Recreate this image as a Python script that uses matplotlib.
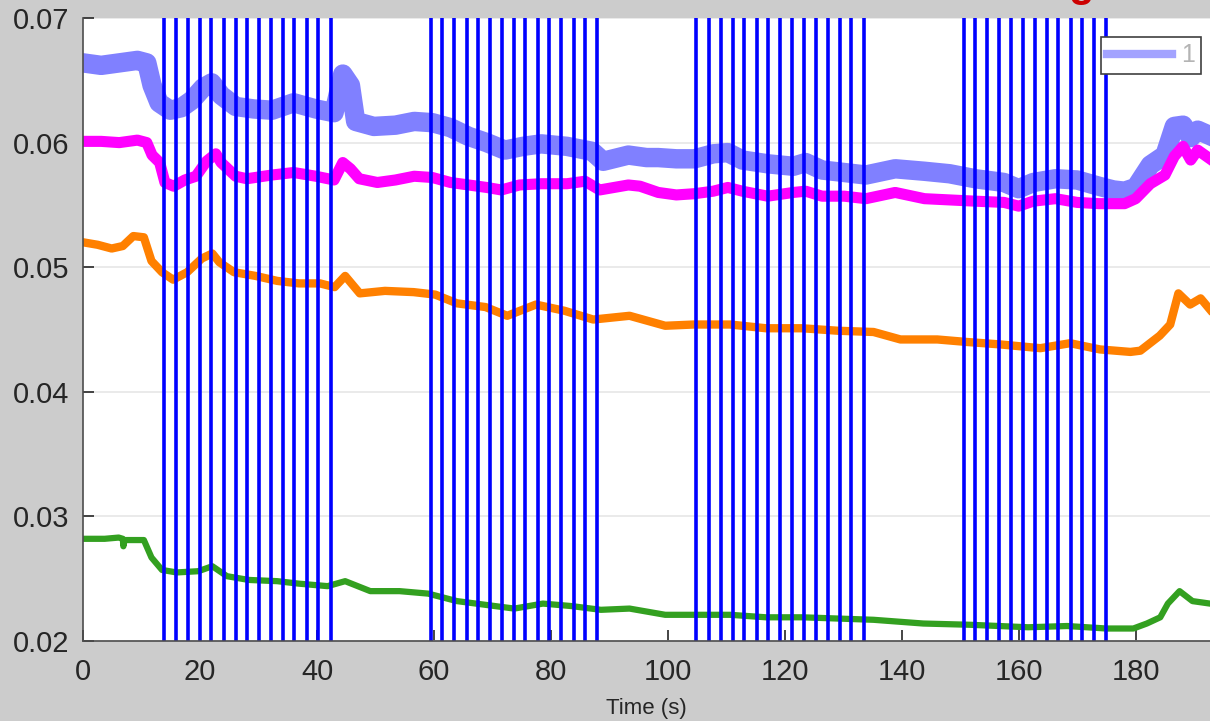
import matplotlib.pyplot as plt
from matplotlib.lines import Line2D

plt.rcParams['font.family'] = ['Liberation Sans', 'DejaVu Sans']

# Series 1 (light blue)
blue_t = [0, 3.1, 6.2, 9.3, 10.9, 11.8, 13, 14.9, 16.8, 18.6, 20.5, 22, 23.6, 26.1, 29.2,
          32.3, 36, 39.8, 42.9, 44.4, 45.7, 46.6, 49.7, 53.4, 56.6, 59.7, 62.8, 65.9, 69,
          72.1, 75.2, 78.3, 82.7, 87, 88.9, 93.2, 96.3, 98.3, 101.4, 104.5, 107.7, 110.2,
          112.7, 117, 121.4, 123.5, 126.3, 130.1, 133.8, 138.8, 143.8, 148.1, 152.5, 157.4,
          159.9, 162.4, 166.2, 169.9, 173.6, 176.1, 178, 179.9, 182.4, 184.9, 186.5, 188,
          189.3, 190.5, 192.9]
blue_v = [0.0664, 0.0662, 0.0664, 0.0666, 0.0664, 0.0646, 0.0632, 0.0626, 0.0628, 0.0634,
          0.0644, 0.0648, 0.0638, 0.0629, 0.0627, 0.0626, 0.0632, 0.0627, 0.0624, 0.0655,
          0.0646, 0.0617, 0.0613, 0.0614, 0.0617, 0.0616, 0.0612, 0.0605, 0.0600, 0.0594,
          0.0597, 0.0599, 0.0597, 0.0593, 0.0585, 0.0590, 0.0588, 0.0588, 0.0587, 0.0587,
          0.0591, 0.0592, 0.0586, 0.0583, 0.0581, 0.0584, 0.0578, 0.0576, 0.0574, 0.0579,
          0.0577, 0.0575, 0.0571, 0.0568, 0.0563, 0.0568, 0.0571, 0.0570, 0.0565, 0.0562,
          0.0561, 0.0564, 0.0582, 0.0590, 0.0613, 0.0614, 0.0604, 0.0610, 0.0605]

# Series 2 (magenta)
mag_t = [0, 3.1, 6.2, 9.3, 10.9, 11.8, 13.1, 14, 15.5, 17.4, 19.3, 21.1, 22.7, 23.6, 26.1,
         28, 32.3, 36, 39.8, 42.9, 44.4, 45.7, 47.2, 50.3, 53.4, 56.6, 59.7, 62.8, 65.9, 69,
         71.5, 74.6, 78.3, 82.7, 85.8, 88.3, 93.2, 95.2, 98.3, 101.4, 104.5, 107.7, 110.2,
         112.7, 117, 121.4, 123.5, 126.3, 130.1, 133.8, 138.8, 143.8, 148.1, 152.5, 157.4,
         159.9, 162.4, 166.2, 169.9, 173.6, 178, 179.9, 182.4, 184.9, 186.5, 188, 189.3,
         190.5, 192.9]
mag_v = [0.0601, 0.0601, 0.0600, 0.0602, 0.0600, 0.0590, 0.0584, 0.0568, 0.0565, 0.0570,
         0.0573, 0.0585, 0.0591, 0.0584, 0.0573, 0.0571, 0.0574, 0.0576, 0.0573, 0.0570,
         0.0584, 0.0579, 0.0571, 0.0568, 0.0570, 0.0573, 0.0572, 0.0568, 0.0566, 0.0564,
         0.0562, 0.0566, 0.0567, 0.0567, 0.0569, 0.0562, 0.0566, 0.0565, 0.0560, 0.0558,
         0.0559, 0.0561, 0.0564, 0.0561, 0.0557, 0.0560, 0.0561, 0.0557, 0.0557, 0.0555,
         0.0560, 0.0555, 0.0554, 0.0553, 0.0552, 0.0549, 0.0553, 0.0555, 0.0552, 0.0551,
         0.0551, 0.0555, 0.0567, 0.0574, 0.0589, 0.0597, 0.0586, 0.0594, 0.0586]

# Series 3 (orange)
org_t = [0, 2.5, 4.9, 6.8, 8.6, 10.4, 11.7, 13.5, 15.4, 17.8, 20.3, 22.1, 23.3, 25.8, 29.5,
         33.2, 36.9, 40.5, 43, 44.8, 47.3, 51.6, 56.5, 60.2, 63.9, 68.8, 72.5, 77.4, 82.3,
         87.2, 93.4, 99.5, 104.4, 110.6, 116.7, 122.9, 129, 135.1, 139.7, 146, 151, 156.8,
         163.6, 168.7, 173.8, 179, 180.7, 184, 185.8, 187.2, 189.2, 191, 192.6]
org_v = [0.0520, 0.0518, 0.0515, 0.0517, 0.0525, 0.0524, 0.0505, 0.0496, 0.0490, 0.0496,
         0.0507, 0.0511, 0.0504, 0.0496, 0.0493, 0.0489, 0.0487, 0.0487, 0.0484, 0.0493,
         0.0479, 0.0481, 0.0480, 0.0478, 0.0471, 0.0468, 0.0461, 0.0470, 0.0465, 0.0458,
         0.0461, 0.0453, 0.0454, 0.0454, 0.0451, 0.0451, 0.0449, 0.0448, 0.0442, 0.0442,
         0.0440, 0.0438, 0.0435, 0.0439, 0.0434, 0.0432, 0.0433, 0.0445, 0.0454, 0.0479,
         0.0470, 0.0475, 0.0466]

# Series 4 (green)
grn_t = [0, 3.7, 6.1, 6.8, 6.9, 7.1, 10.4, 11.7, 13.5, 16, 19.7, 22.1, 24.6, 28.3, 33.2,
         36.9, 41.8, 44.8, 49.1, 54.1, 59, 63.9, 68.8, 73.7, 78.6, 83.5, 88.5, 93.4, 99.5,
         105.7, 110.6, 116.7, 122.9, 129, 135.1, 143.6, 151.6, 161.5, 168.2, 174.9, 179.5,
         181.8, 184.1, 185.4, 187.4, 189.6, 192.6]
grn_v = [0.0282, 0.0282, 0.0283, 0.0282, 0.0276, 0.0281, 0.0281, 0.0267, 0.0257, 0.0255,
         0.0256, 0.0260, 0.0252, 0.0249, 0.0248, 0.0246, 0.0244, 0.0248, 0.0240, 0.0240,
         0.0238, 0.0232, 0.0229, 0.0226, 0.0230, 0.0228, 0.0225, 0.0226, 0.0221, 0.0221,
         0.0221, 0.0219, 0.0219, 0.0218, 0.0217, 0.0214, 0.0213, 0.0211, 0.0212, 0.0210,
         0.0210, 0.0214, 0.0219, 0.0230, 0.0240, 0.0232, 0.0230]

# Event markers (vertical lines), four groups
events = [13.9, 15.9, 18.0, 20.0, 21.9, 24.1, 26.1, 28.1, 30.1, 32.1, 34.1, 36.1, 38.2, 40.2, 42.4,
          59.4, 61.4, 63.4, 65.6, 67.5, 69.5, 71.6, 73.6, 75.6, 77.7, 79.7, 81.7, 83.9, 85.8, 87.8,
          104.8, 106.9, 109.0, 111.0, 113.0, 115.1, 117.1, 119.1, 121.2, 123.2, 125.2, 127.3,
          129.3, 131.3, 133.4,
          150.5, 152.4, 154.5, 156.6, 158.6, 160.6, 162.7, 164.7, 166.6, 168.8, 170.8, 172.8, 174.9]

xticks = [0, 20, 40, 60, 80, 100, 120, 140, 160, 180]
yticks = [0.02, 0.03, 0.04, 0.05, 0.06, 0.07]

fig = plt.figure(figsize=(12.1, 7.21), dpi=100, facecolor='#cccccc')
ax = fig.add_axes([0.0686, 0.111, 0.9314, 0.864])
ax.set_facecolor('white')

ax.plot(blue_t, blue_v, color='#8080ff', lw=14, solid_joinstyle='round', zorder=3)
ax.plot(mag_t, mag_v, color='#ff00ff', lw=8, solid_joinstyle='round', zorder=3)
ax.plot(org_t, org_v, color='#ff8000', lw=6, solid_joinstyle='round', zorder=3)
ax.plot(grn_t, grn_v, color='#33a020', lw=4.5, solid_joinstyle='round', zorder=3)

for t in events:
    ax.axvline(t, color='#0000ff', lw=2.6, zorder=4)

ax.set_xlim(0, 192.6)
ax.set_ylim(0.02, 0.07)
ax.set_xticks(xticks)
ax.set_yticks(yticks)
ax.set_yticklabels(['%.2f' % v for v in yticks])
ax.yaxis.grid(True, color='#e6e6e6', lw=1.2, zorder=0)
ax.set_axisbelow(True)

for s in ['top', 'right']:
    ax.spines[s].set_visible(False)
for s in ['left', 'bottom']:
    ax.spines[s].set_color('#4d4d4d')
    ax.spines[s].set_linewidth(1.2)
    ax.spines[s].set_zorder(5)

ax.tick_params(axis='both', direction='in', length=8, width=1.2, colors='#262626',
               labelsize=21)
ax.tick_params(axis='y', pad=10)
ax.tick_params(axis='x', pad=12)
ax.set_xlabel('Time (s)', fontsize=16, color='#262626', labelpad=9)

handle = Line2D([], [], color='#a3a3ff', lw=6)
leg = ax.legend([handle], ['1'], loc='upper right', bbox_to_anchor=(0.992, 0.9695),
                borderaxespad=0, fontsize=18, handlelength=2.6, handletextpad=0.35,
                borderpad=0.25, fancybox=False, framealpha=1, edgecolor='#404040')
leg.get_frame().set_linewidth(1.2)
leg.set_zorder(6)
for txt in leg.get_texts():
    txt.set_color('#b4b4b4')

# clipped title remnant at the top edge
fig.text(0.893, 1.006, 'g', color='#cc0000', fontsize=30, fontweight='bold',
         ha='center', va='baseline')

fig.savefig('out.png', dpi=100, facecolor=fig.get_facecolor())
